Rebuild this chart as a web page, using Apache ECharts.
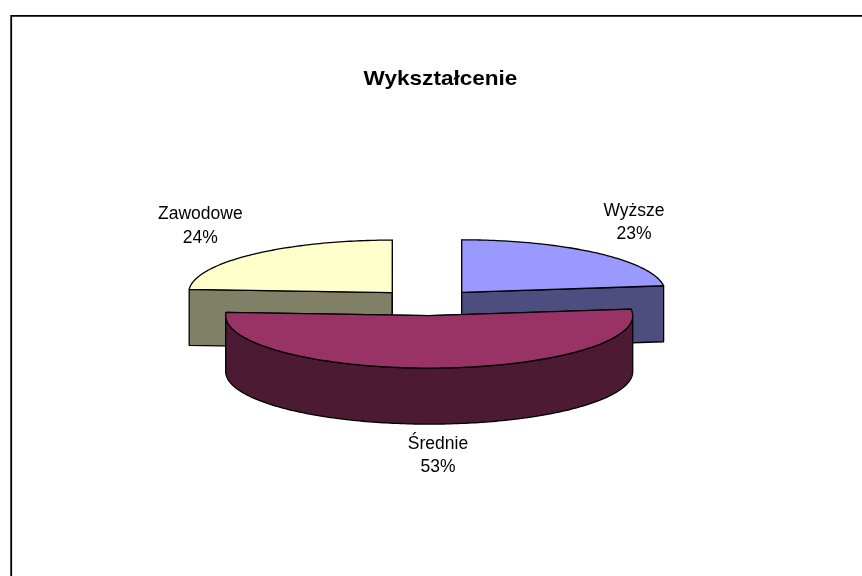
<!DOCTYPE html>
<html><head><meta charset="utf-8">
<style>html,body{margin:0;padding:0;background:#fff}#c{width:862px;height:576px}</style>
<script src="https://cdn.jsdelivr.net/npm/echarts@6/dist/echarts.min.js"></script>
</head><body><div id="c"></div>
<script>
const categories = ['Wyższe', 'Średnie', 'Zawodowe'];
const values = [23, 53, 24];
const topColors = ['#9999ff', '#993366', '#ffffcc'];
const sideColors = ['#4d4d80', '#4d1a33', '#808066'];
const chartTitle = 'Wykształcenie';

const CX = 427.6, CY = 302.3, RX = 203.5, RY = 52.5, DEPTH = 56, EXPLODE = 51.6;
const labelAnchors = [[634, 222.5], [438, 455.5], [200.3, 226]];
const total = values.reduce((a, b) => a + b, 0);
const starts = [];
values.reduce((acc, v, i) => { starts[i] = acc; return acc + v; }, 0);

function arcPts(cx, cy, a0, a1, dy) {
  const n = Math.max(2, Math.ceil(Math.abs(a1 - a0) / (Math.PI / 180)));
  const p = [];
  for (let i = 0; i <= n; i++) {
    const a = a0 + (a1 - a0) * i / n;
    p.push([cx + RX * Math.sin(a), cy - RY * Math.cos(a) + dy]);
  }
  return p;
}
const line = { stroke: '#000', lineWidth: 1.3, lineJoin: 'round' };

function renderItem(params, api) {
  const i = params.dataIndex;
  const val = api.value(0);
  const a0 = starts[i] / total * 2 * Math.PI;
  const a1 = (starts[i] + val) / total * 2 * Math.PI;
  const mid = (a0 + a1) / 2;
  const cx = CX + EXPLODE * Math.sin(mid);
  const cy = CY - EXPLODE * (RY / RX) * Math.cos(mid);
  const z = Math.round(-Math.cos(mid) * 100);
  const children = [];
  const poly = (points, fill, zz) => children.push({
    type: 'polygon', shape: { points }, z2: zz,
    style: Object.assign({ fill }, line)
  });
  const apex = [cx, cy];
  const apexB = [cx, cy + DEPTH];
  // cut faces visible from the front
  [a0, a1].forEach(a => {
    const s = Math.sin(a), c = Math.cos(a);
    if (c > 0) {
      const e = [cx + RX * s, cy - RY * c];
      poly([apex, e, [e[0], e[1] + DEPTH], apexB], sideColors[i], z);
    }
  });
  // outer rim: the part of the arc on the near side
  const r0 = Math.max(a0, Math.PI / 2), r1 = Math.min(a1, 3 * Math.PI / 2);
  if (r1 > r0) {
    const topArc = arcPts(cx, cy, r0, r1, 0);
    const botArc = arcPts(cx, cy, r0, r1, DEPTH).reverse();
    poly(topArc.concat(botArc), sideColors[i], z + 1);
  }
  // top face
  poly([apex].concat(arcPts(cx, cy, a0, a1, 0)), topColors[i], z + 2);
  // label
  children.push({
    type: 'text', z2: 500,
    style: {
      x: labelAnchors[i][0], y: labelAnchors[i][1],
      text: categories[i] + '\n' + Math.round(val / total * 100) + '%',
      fill: '#000', font: '17.5px "Liberation Sans", Arial, sans-serif',
      align: 'center', verticalAlign: 'middle', lineHeight: 23.5
    }
  });
  return { type: 'group', children };
}

const chart = echarts.init(document.getElementById('c'), null, { renderer: 'canvas' });
chart.setOption({
  animation: false,
  backgroundColor: '#fff',
  graphic: [
    { type: 'polyline', silent: true, shape: { points: [[11.2, 576], [11.2, 15.8], [862, 15.8]] },
      style: { stroke: '#000', lineWidth: 1.8, fill: null } },
    { type: 'text', silent: true, x: 440.5, y: 79, scaleX: 1.1, scaleY: 1,
      style: { text: chartTitle, fill: '#000', font: 'bold 20.5px "Liberation Sans", Arial, sans-serif',
        align: 'center', verticalAlign: 'middle' } }
  ],
  series: [{
    type: 'custom',
    coordinateSystem: 'none',
    renderItem,
    data: values.map((v, i) => ({ name: categories[i], value: [v] }))
  }]
});
</script></body></html>
